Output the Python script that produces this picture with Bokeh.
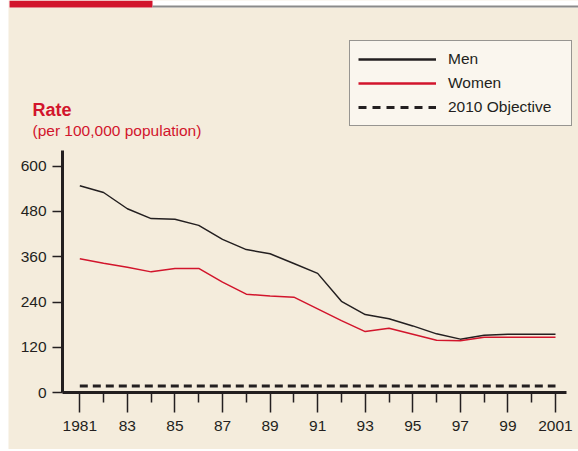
from bokeh.plotting import figure
from bokeh.models import Legend, LegendItem, Label, FixedTicker, BoxAnnotation, GlobalInlineStyleSheet
from bokeh.embed import file_html
from bokeh.resources import INLINE

# ---- data ----
years = [1981, 1982, 1983, 1984, 1985, 1986, 1987, 1988, 1989, 1990, 1991,
         1992, 1993, 1994, 1995, 1996, 1997, 1998, 1999, 2000, 2001]
men = [548, 530, 487, 461, 459, 443, 406, 379, 368, 342, 316,
       242, 207, 196, 177, 156, 142, 152, 155, 155, 155]
women = [355, 343, 332, 320, 329, 329, 293, 261, 256, 253, 222,
         191, 162, 171, 155, 139, 138, 147, 147, 147, 147]
objective_years = [1981, 2001]
objective = [18, 18]

major_ticks = [1981, 1983, 1985, 1987, 1989, 1991, 1993, 1995, 1997, 1999, 2001]
minor_ticks = [1982, 1984, 1986, 1988, 1990, 1992, 1994, 1996, 1998, 2000]
major_labels = ["1981", "83", "85", "87", "89", "91", "93", "95", "97", "99", "2001"]
y_ticks = [0, 120, 240, 360, 480, 600]

series_names = ["Men", "Women", "2010 Objective"]

# ---- style ----
BG = "#F4ECDC"
RED = "#D2152C"
INK = "#231F20"
FONT = "Liberation Sans"

X_AXIS_START = 1980.273
X_AXIS_END = 2001.4625
W, H = 570, 449

p = figure(width=W, height=H, output_backend="svg", toolbar_location=None,
           x_range=(1978.0024, 2001.967), y_range=(-150.03, 1038.05),
           min_border_left=0, min_border_right=0, min_border_top=0, min_border_bottom=0,
           background_fill_color=BG, border_fill_color=BG, outline_line_color=None)
p.xgrid.visible = False
p.ygrid.visible = False

# header strip (white band, red tab, grey rule)
p.add_layout(BoxAnnotation(left=0, right=W, bottom=H - 7, top=H,
                           left_units="screen", right_units="screen",
                           bottom_units="screen", top_units="screen",
                           fill_color="white", fill_alpha=1, line_color=None, level="underlay"))
p.add_layout(BoxAnnotation(left=1, right=144, bottom=H - 7, top=H,
                           left_units="screen", right_units="screen",
                           bottom_units="screen", top_units="screen",
                           fill_color=RED, fill_alpha=1, line_color=None, level="underlay"))
p.add_layout(BoxAnnotation(left=144, right=W, bottom=H - 7, top=H - 5,
                           left_units="screen", right_units="screen",
                           bottom_units="screen", top_units="screen",
                           fill_color="#8a8a8a", fill_alpha=1, line_color=None, level="underlay"))

r_men = p.line(years, men, line_color=INK, line_width=1.5)
r_women = p.line(years, women, line_color=RED, line_width=1.5)
r_obj = p.line(objective_years, objective, line_color=INK, line_width=3, line_dash="8 5")

# legend keys use the heavier strokes of the original key (not drawn on the plot)
k_men = p.line(years, men, line_color=INK, line_width=2.5, visible=False)
k_women = p.line(years, women, line_color=RED, line_width=2.5, visible=False)
k_obj = p.line(objective_years, objective, line_color=INK, line_width=3, line_dash="8 6", visible=False)

xa = p.xaxis[0]
xa.fixed_location = 0
xa.ticker = FixedTicker(ticks=major_ticks, minor_ticks=minor_ticks)
xa.major_label_overrides = {t: l for t, l in zip(major_ticks, major_labels)}
xa.bounds = (X_AXIS_START, X_AXIS_END)
xa.axis_line_width = 3
xa.axis_line_color = INK
xa.major_tick_line_color = INK
xa.minor_tick_line_color = INK
xa.major_tick_line_width = 1.5
xa.minor_tick_line_width = 1.5
xa.major_tick_in = 0
xa.major_tick_out = 20
xa.minor_tick_in = 0
xa.minor_tick_out = 10
xa.major_label_standoff = 8
xa.major_label_text_font = FONT
xa.major_label_text_font_size = "15.5px"
xa.major_label_text_color = INK

ya = p.yaxis[0]
ya.fixed_location = X_AXIS_START
ya.ticker = FixedTicker(ticks=y_ticks, minor_ticks=[])
ya.bounds = (0, 640)
ya.axis_line_width = 3
ya.axis_line_color = INK
ya.major_tick_line_color = INK
ya.major_tick_line_width = 1.5
ya.major_tick_in = 0
ya.major_tick_out = 10
ya.minor_tick_out = 0
ya.minor_tick_in = 0
ya.major_label_standoff = 6
ya.major_label_text_font = FONT
ya.major_label_text_font_size = "15.5px"
ya.major_label_text_color = INK

p.add_layout(Label(x=24, y=340, x_units="screen", y_units="screen", text="Rate",
                   text_font=FONT, text_font_style="bold", text_font_size="18px",
                   text_color=RED, text_baseline="alphabetic"))
p.add_layout(Label(x=24, y=319, x_units="screen", y_units="screen",
                   text="(per 100,000 population)",
                   text_font=FONT, text_font_size="15.5px",
                   text_color=RED, text_baseline="alphabetic"))

legend = Legend(items=[LegendItem(label=series_names[0], renderers=[k_men]),
                       LegendItem(label=series_names[1], renderers=[k_women]),
                       LegendItem(label=series_names[2], renderers=[k_obj])],
                location=(341, 323), orientation="vertical",
                padding=8, spacing=4, margin=0,
                glyph_width=78, glyph_height=20, label_height=20, label_width=115,
                label_standoff=12,
                label_text_font=FONT, label_text_font_size="15.5px", label_text_color=INK,
                background_fill_color="#FAF6EE", background_fill_alpha=1,
                border_line_color="#333333", border_line_width=1.2)
p.add_layout(legend)

p.stylesheets = [GlobalInlineStyleSheet(css="html, body { margin: 0 !important; padding: 0 !important; } "
                                            "body { margin-left: 8px !important; }")]

open("out.html", "w").write(file_html(p, INLINE))
